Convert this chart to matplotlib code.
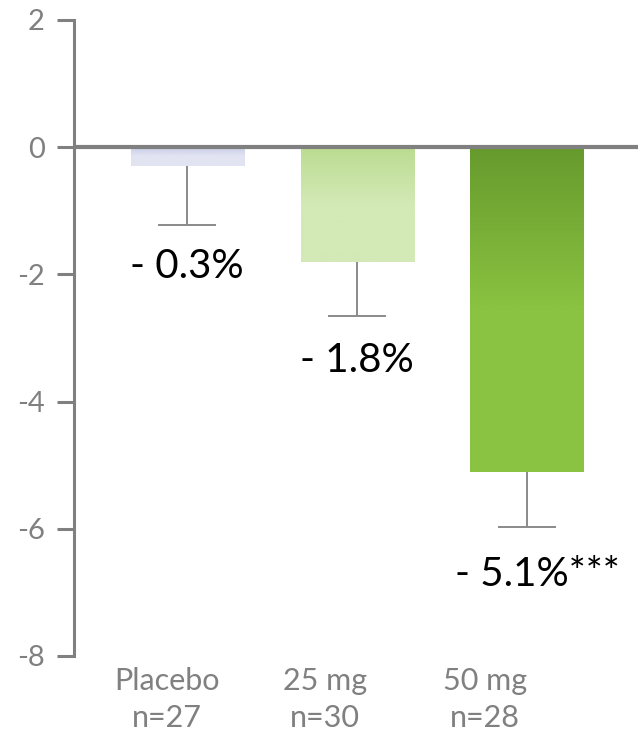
import numpy as np
import matplotlib
matplotlib.use("Agg")
import matplotlib.pyplot as plt
from matplotlib.colors import LinearSegmentedColormap

plt.rcParams['font.family'] = ['Lato', 'DejaVu Sans']

# Mean change from baseline (%) and lower SE per dose group
groups = ['Placebo\nn=27', '25 mg\nn=30', '50 mg\nn=28']
means = [-0.3, -1.8, -5.1]
errors = [0.93, 0.86, 0.87]
labels = ['- 0.3%', '- 1.8%', '- 5.1%***']

# gradient colours per bar (top, bottom)
grads = [('#c6cbe6', '#e2e4f2'),
         ('#bbdc90', '#d3e9b6'),
         ('#679a2d', '#8ac341')]

gray = '#808080'

fig = plt.figure(figsize=(6.38, 7.45), dpi=100)
ax = fig.add_axes([0.116, 0.1195, 0.884, 0.8537])

x = np.arange(len(means))
bars = ax.bar(x, means, width=0.665, color='none', edgecolor='none', zorder=2)

for b, (top, bot) in zip(bars, grads):
    cmap = LinearSegmentedColormap.from_list('g', [top, bot, bot], N=256)
    x0, w = b.get_x(), b.get_width()
    h = b.get_height()
    grad = np.linspace(0, 1, 256).reshape(-1, 1)
    im = ax.imshow(grad, cmap=cmap, aspect='auto', origin='upper',
                   extent=[x0, x0 + w, h, 0], zorder=2)
    im.set_clip_path(b)

# lower error whiskers only
lows = np.array(means) - np.array(errors)
ax.vlines(x, means, lows, color='#8a8a8a', lw=1.4, zorder=3)
ax.hlines(lows, x - 0.17, x + 0.17, color='#8a8a8a', lw=1.4, zorder=3)

ax.axhline(0, color=gray, lw=3, zorder=4)

# value labels under each bar
label_y = [-2.06, -3.53, -6.90]
label_x = [0, 1, 2.06]
for lx, ly, t in zip(label_x, label_y, labels):
    ax.text(lx, ly, t, ha='center', va='baseline', fontsize=29, color='black')

ax.set_xlim(-0.665, 2.653)
ax.set_ylim(-8, 2)
ax.set_yticks([2, 0, -2, -4, -6, -8])
ax.set_yticklabels(['2', '0', '-2', '-4', '-6', '-8'])
ax.tick_params(axis='y', length=12, width=2.2, color=gray, labelcolor=gray,
               labelsize=21, pad=9)

# group labels under the axis
ax.set_xticks([])
for gx, g in zip([-0.118, 0.812, 1.753], groups):
    ax.text(gx, -8.17, g, ha='center', va='top', fontsize=22, color=gray,
            linespacing=1.4)

for s in ['top', 'right', 'bottom']:
    ax.spines[s].set_visible(False)
ax.spines['left'].set_color(gray)
ax.spines['left'].set_linewidth(2.2)
ax.set_facecolor('white')

fig.savefig('out.png', dpi=100)
